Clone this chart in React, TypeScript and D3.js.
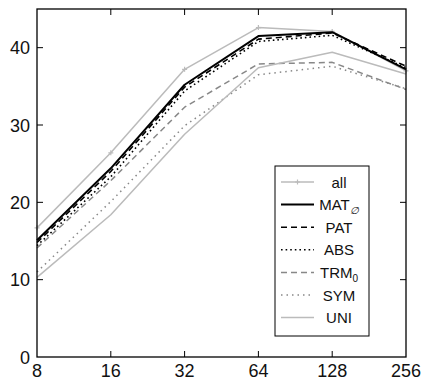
import React from "react";
import * as d3 from "d3";

const xs = [8, 16, 32, 64, 128, 256];
const xTicks = [8, 16, 32, 64, 128, 256];
const yTicks = [0, 10, 20, 30, 40];
const allV = [16.7, 26.4, 37.2, 42.6, 42.1, 37.0];
const matV = [15.1, 24.4, 35.2, 41.5, 42.0, 37.2];
const patV = [14.8, 24.0, 34.9, 41.1, 41.9, 37.6];
const absV = [14.4, 23.3, 34.4, 40.8, 41.6, 37.4];
const trmV = [14.1, 22.8, 32.3, 37.9, 38.1, 34.6];
const symV = [11.0, 20.1, 29.9, 36.5, 37.6, 34.7];
const uniV = [10.3, 18.4, 28.8, 37.4, 39.4, 36.6];

const series = [
  { key: "all", label: "all", sub: "", values: allV, color: "#bbbbbb", width: 1.5, dash: "", marker: true },
  { key: "mat", label: "MAT", sub: "∅", values: matV, color: "#000000", width: 2, dash: "", marker: false },
  { key: "pat", label: "PAT", sub: "", values: patV, color: "#000000", width: 1.6, dash: "6,4", marker: false },
  { key: "abs", label: "ABS", sub: "", values: absV, color: "#000000", width: 1.6, dash: "1.6,3", marker: false },
  { key: "trm", label: "TRM", sub: "0", values: trmV, color: "#888888", width: 1.5, dash: "6,4", marker: false },
  { key: "sym", label: "SYM", sub: "", values: symV, color: "#888888", width: 1.5, dash: "1.5,4", marker: false },
  { key: "uni", label: "UNI", sub: "", values: uniV, color: "#bbbbbb", width: 1.5, dash: "", marker: false },
];

export default function App() {
  const L = 37, R = 406, T = 9, B = 357;
  const x = d3.scaleLog().base(2).domain([8, 256]).range([L, R]);
  const y = d3.scaleLinear().domain([0, 45]).range([B, T]);
  const line = d3.line<number>().x((_, i) => x(xs[i])).y((v) => y(v));
  const font = "'Liberation Sans', Arial, Helvetica, sans-serif";
  const legX0 = 275, legY0 = 166, legW = 94, legH = 170;
  const rowY = (i: number) => 182 + i * 22.6;
  return (
    <svg width={424} height={380} style={{ position: "absolute", left: 0, top: 0, background: "#ffffff" }} fontFamily={font}>
      <rect x={0} y={0} width={424} height={380} fill="#ffffff" />
      {series.map((s) => (
        <g key={s.key}>
          <path d={line(s.values) || ""} fill="none" stroke={s.color} strokeWidth={s.width} strokeDasharray={s.dash || undefined} strokeLinejoin="round" />
          {s.marker && s.values.map((v, i) => (
            <path key={i} d={`M${x(xs[i]) - 2.5},${y(v)}h5M${x(xs[i])},${y(v) - 2.5}v5`} stroke={s.color} strokeWidth={1.2} />
          ))}
        </g>
      ))}
      {/* frame */}
      <rect x={L} y={T} width={R - L} height={B - T} fill="none" stroke="#000" strokeWidth={1.3} />
      {xTicks.slice(1, -1).map((t) => (
        <g key={t}>
          <line x1={x(t)} x2={x(t)} y1={B} y2={B - 6} stroke="#000" strokeWidth={1} />
          <line x1={x(t)} x2={x(t)} y1={T} y2={T + 6} stroke="#000" strokeWidth={1} />
        </g>
      ))}
      {yTicks.slice(1).map((t) => (
        <g key={t}>
          <line x1={L} x2={L + 6} y1={y(t)} y2={y(t)} stroke="#000" strokeWidth={1} />
          <line x1={R} x2={R - 6} y1={y(t)} y2={y(t)} stroke="#000" strokeWidth={1} />
        </g>
      ))}
      {xTicks.map((t) => (
        <text key={t} x={x(t)} y={377} fontSize={18} textAnchor="middle" fill="#111">{t}</text>
      ))}
      {yTicks.map((t) => (
        <text key={t} x={30} y={y(t) + 6.5} fontSize={18} textAnchor="end" fill="#111">{t}</text>
      ))}
      {/* legend */}
      <rect x={legX0} y={legY0} width={legW} height={legH} fill="#ffffff" stroke="#000" strokeWidth={1} />
      {series.map((s, i) => (
        <g key={s.key}>
          <line x1={281} x2={314} y1={rowY(i)} y2={rowY(i)} stroke={s.color} strokeWidth={s.width} strokeDasharray={s.dash || undefined} />
          {s.marker && (
            <path d={`M${297.5 - 2.5},${rowY(i)}h5M297.5,${rowY(i) - 2.5}v5`} stroke={s.color} strokeWidth={1.2} />
          )}
          <text x={339} y={rowY(i) + 5.5} fontSize={15} textAnchor="middle" fill="#111">
            {s.label}
            {s.sub && (
              <tspan fontSize={10} dy={4} fontStyle={s.key === "mat" ? "italic" : "normal"}>{s.sub}</tspan>
            )}
          </text>
        </g>
      ))}
    </svg>
  );
}
